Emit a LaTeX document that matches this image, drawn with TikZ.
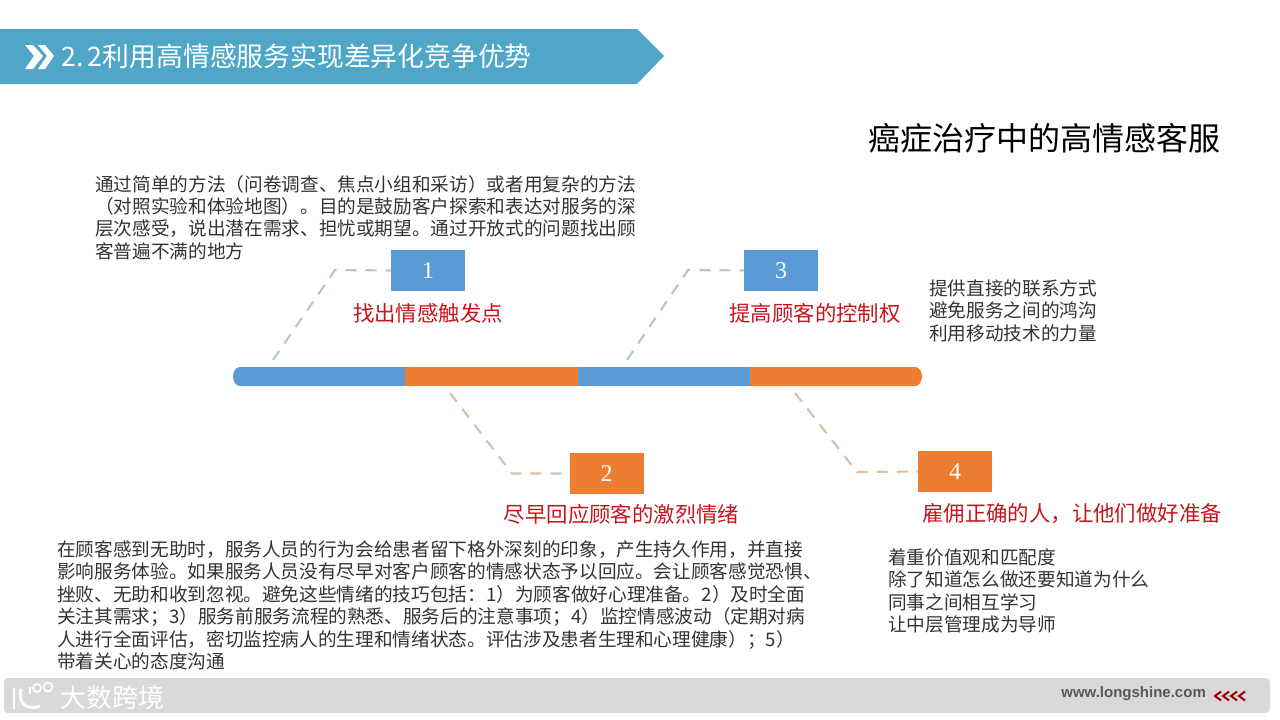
\documentclass[tikz,border=0pt]{standalone}
\usepackage{fontspec}
\setmainfont{Liberation Serif}
\newfontfamily\cjk{Noto Sans CJK SC}
\usetikzlibrary{positioning,calc}
\definecolor{barblue}{HTML}{5B9BD5}
\definecolor{barorange}{HTML}{ED7D31}
\definecolor{bandblue}{HTML}{4FA6C7}
\definecolor{redtext}{HTML}{C8141E}
\definecolor{footgray}{HTML}{D9D9DB}
\definecolor{linkblue}{HTML}{B3C8D6}
\definecolor{linkorange}{HTML}{DDBFA6}
\tikzset{
	numbox/.style = {minimum width=74pt, minimum height=41pt, inner sep=0pt, text=white, font=\fontsize{24}{24}\selectfont},
	bluelink/.style = {draw=linkblue, dash pattern=on 11pt off 9pt, line width=2.2pt},
	orangelink/.style = {draw=linkorange, dash pattern=on 11pt off 9pt, line width=2.2pt},
	headtext/.style = {text=redtext, inner sep=0pt, font=\cjk\fontsize{21.4}{21.4}\selectfont},
	bodytext/.style = {anchor=north west, inner sep=0pt, align=left, text=black!80, font=\cjk\fontsize{18.65}{22.4}\selectfont},
	logopart/.style = {draw=white, line width=2.4pt},
}
\begin{document}
\begin{tikzpicture}[x=1pt,y=-1pt]
	\useasboundingbox (0,0) rectangle (1280,720);
	%header band
	\fill[bandblue] (0,29) -- (637,29) -- (664,56) -- (637,84) -- (0,84) -- cycle;
	\fill[white] (25,45) -- (33,45) -- (43,56) -- (33,69) -- (25,69) -- (34,56) -- cycle;
	\fill[white] (38,45) -- (45,45) -- (54,56) -- (45,69) -- (38,69) -- (47,56) -- cycle;
	\node[anchor=west, inner sep=0pt, text=white, font=\cjk\fontsize{26.8}{27}\selectfont] (header) at (61,56) {2.\,2利用高情感服务实现差异化竞争优势};
	\node[anchor=east, inner sep=0pt, font=\cjk\fontsize{32}{32}\selectfont] (maintitle) at (1221,138) {癌症治疗中的高情感客服};
	%central bar
	\fill[barblue] (240,367) -- (405,367) -- (405,386) -- (240,386) arc (270:90:7pt and 9.5pt) -- cycle;
	\fill[barorange] (405,367) rectangle (578,386);
	\fill[barblue] (578,367) rectangle (750,386);
	\fill[barorange] (750,367) -- (915,367) arc (90:-90:7pt and 9.5pt) -- (750,386) -- cycle;
	%boxes
	\node[numbox, fill=barblue] (box1) at (428,270.5) {1};
	\node[numbox, fill=barorange] (box2) at (606.5,473.5) {2};
	\node[numbox, fill=barblue] (box3) at (781,270.5) {3};
	\node[numbox, fill=barorange] (box4) at (955,471.5) {4};
	%links
	\coordinate (start1) at (273,360);
	\coordinate (start2) at (450,393);
	\coordinate (start3) at (627,360);
	\coordinate (start4) at (795,393);
	\draw[bluelink] (start1) -- (335,270) -- (box1.west);
	\draw[orangelink] (start2) -- (512,473.5) -- (box2.west);
	\draw[bluelink] (start3) -- (688,270) -- (box3.west);
	\draw[orangelink] (start4) -- (857,472) -- (box4.west);
	%headings
	\node[headtext] (head1) at (428,313) {找出情感触发点};
	\node[headtext] (head2) at (621.5,514) {尽早回应顾客的激烈情绪};
	\node[headtext] (head3) at (815,313) {提高顾客的控制权};
	\node[headtext] (head4) at (1072,514) {雇佣正确的人，让他们做好准备};
	%text
	\node[bodytext] (text1) at (95,175) {通过简单的方法（问卷调查、焦点小组和采访）或者用复杂的方法\\（对照实验和体验地图）。目的是鼓励客户探索和表达对服务的深\\层次感受，说出潜在需求、担忧或期望。通过开放式的问题找出顾\\客普遍不满的地方};
	\node[bodytext] (text3) at (929,279.5) {提供直接的联系方式\\避免服务之间的鸿沟\\利用移动技术的力量};
	\node[bodytext] (text2) at (57,540.5) {在顾客感到无助时，服务人员的行为会给患者留下格外深刻的印象，产生持久作用，并直接\\影响服务体验。如果服务人员没有尽早对客户顾客的情感状态予以回应。会让顾客感觉恐惧、\\挫败、无助和收到忽视。避免这些情绪的技巧包括：1）为顾客做好心理准备。2）及时全面\\关注其需求；3）服务前服务流程的熟悉、服务后的注意事项；4）监控情感波动（定期对病\\人进行全面评估，密切监控病人的生理和情绪状态。评估涉及患者生理和心理健康）；5）\\带着关心的态度沟通};
	\node[bodytext] (text4) at (888,548.5) {着重价值观和匹配度\\除了知道怎么做还要知道为什么\\同事之间相互学习\\让中层管理成为导师};
	%footer
	\fill[footgray, rounded corners=4pt] (4,678) rectangle (1270,713);
	\draw[logopart] (14,688) -- (14,709);
	\draw[logopart, line width=3pt] (21,689) .. controls (18,703) and (26,711) .. (40,706);
	\draw[logopart, line width=1.6pt] (30,687) -- (30,694);
	\draw[logopart, line width=1.6pt] (37,688) circle (4pt);
	\draw[logopart, line width=1.6pt] (48,687) circle (4.5pt);
	\node[anchor=west, inner sep=0pt, text=white, font=\cjk\fontsize{26}{26}\selectfont] (brand) at (60,698) {大数跨境};
	\node[anchor=east, inner sep=0pt, text=black!65, font=\fontspec{Liberation Sans}\bfseries\fontsize{15}{16}\selectfont] (site) at (1206,694) {www.longshine.com};
	\foreach \x in {1215,1223,1231,1239}
		\draw[red!60!black, line width=2pt] (\x+6,691.5) -- (\x,696) -- (\x+6,700.5);
\end{tikzpicture}
\end{document}
